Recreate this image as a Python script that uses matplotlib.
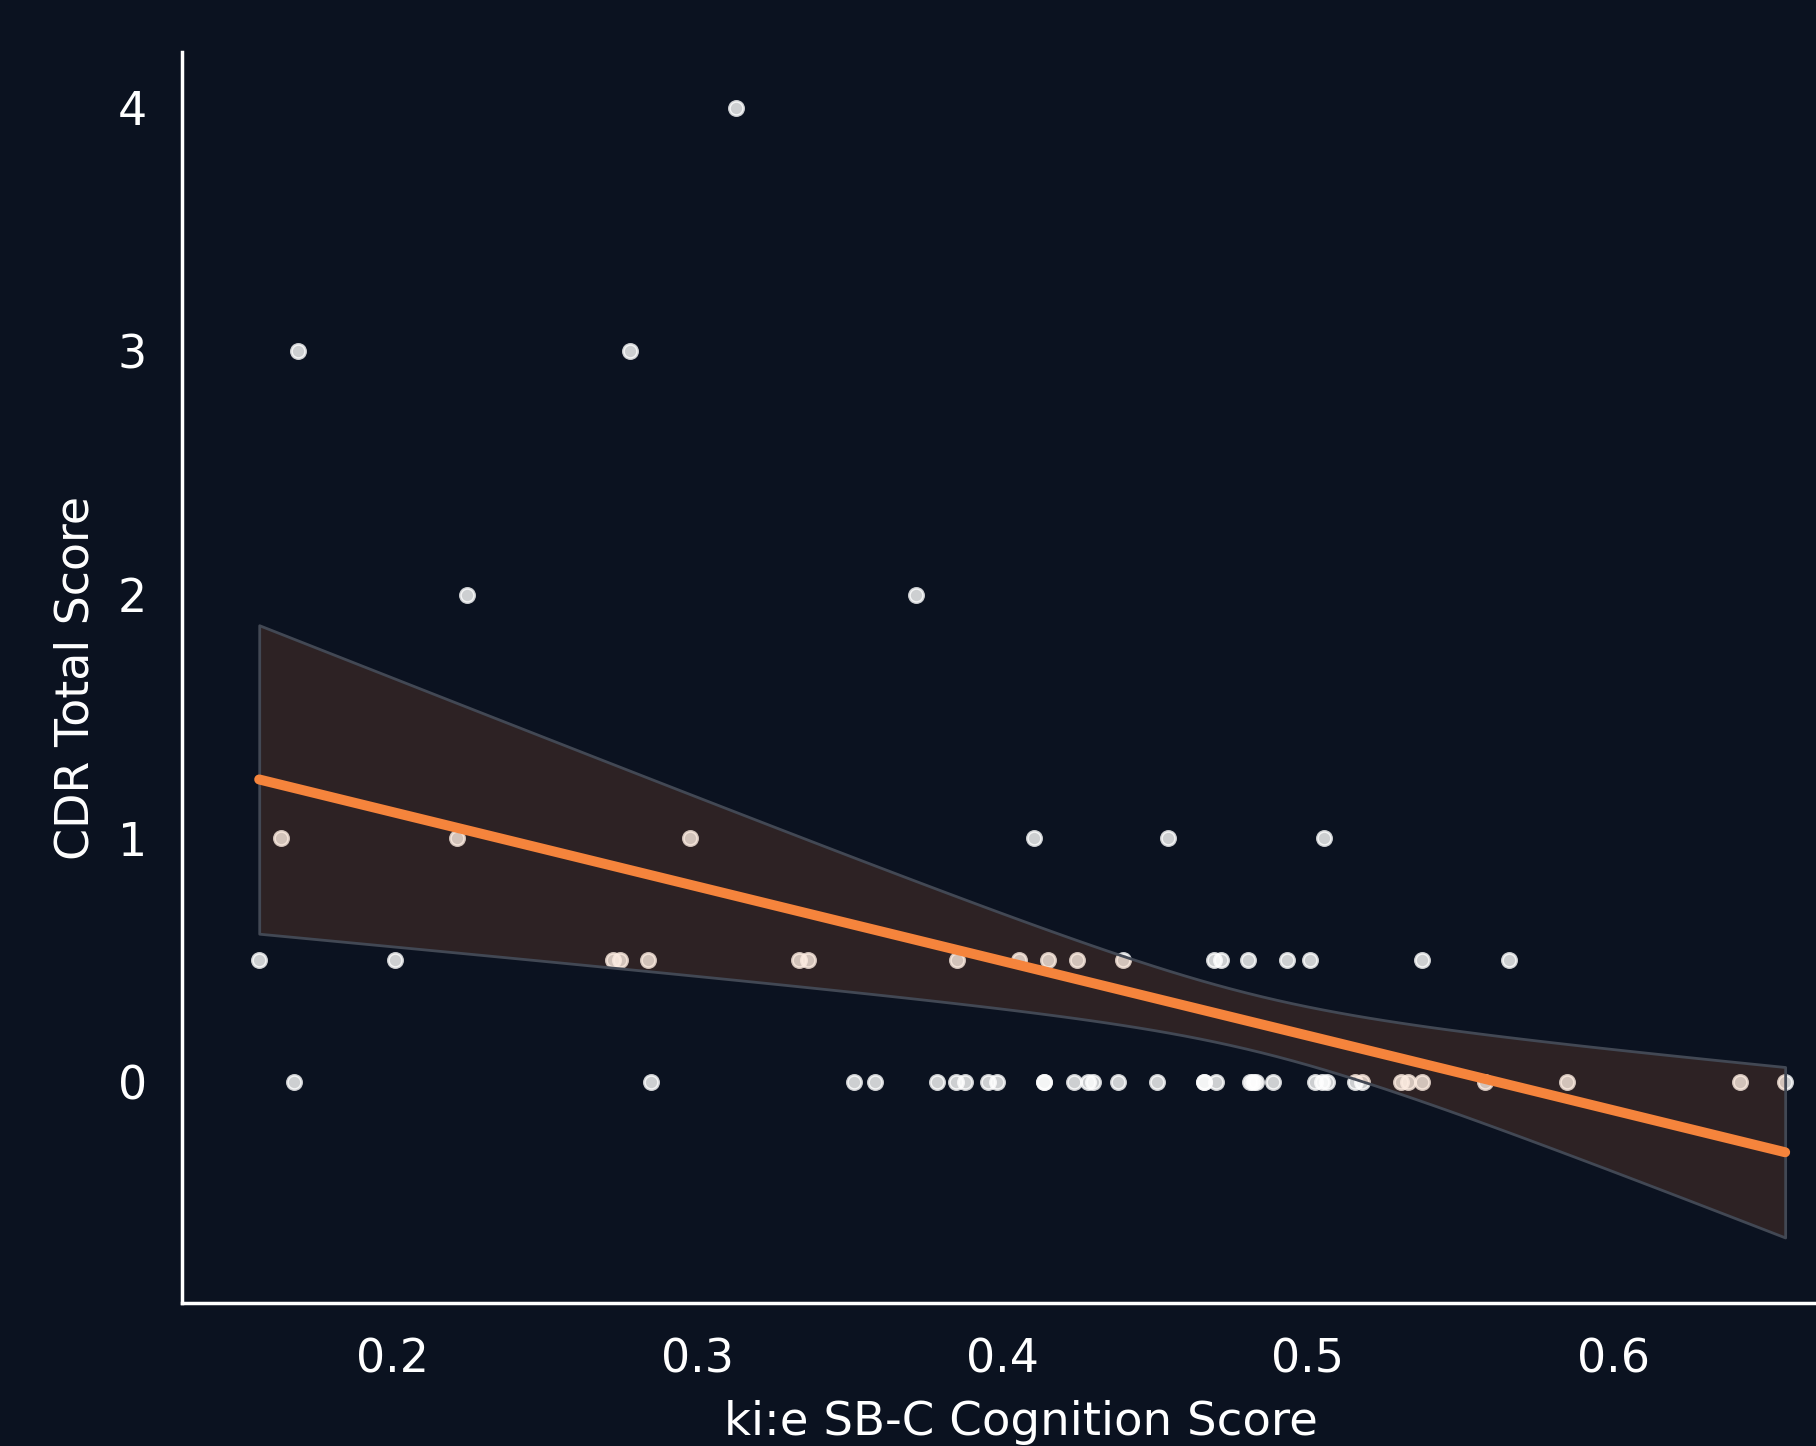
import numpy as np
import matplotlib
matplotlib.use("Agg")
import matplotlib.pyplot as plt

# ---- data ----
cdr0_x = [0.1679, 0.2847, 0.3513, 0.3582, 0.3786, 0.3846, 0.3877, 0.3953, 0.3981,
          0.4136, 0.4136, 0.4233, 0.4281, 0.4297, 0.4379, 0.4505, 0.4659, 0.4659,
          0.4698, 0.4810, 0.4820, 0.4829, 0.4885, 0.5024, 0.5046, 0.5064, 0.5153,
          0.5178, 0.5304, 0.5329, 0.5375, 0.5580, 0.5847, 0.6415, 0.6563]
cdr05_x = [0.1565, 0.2009, 0.2725, 0.2747, 0.2840, 0.3332, 0.3364, 0.3849, 0.4053,
           0.4147, 0.4245, 0.4395, 0.4692, 0.4715, 0.4804, 0.4933, 0.5007, 0.5372,
           0.5657]
cdr1_x = [0.1635, 0.2212, 0.2977, 0.4103, 0.4543, 0.5051]
cdr2_x = [0.2245, 0.3716]
cdr3_x = [0.1691, 0.2780]
cdr4_x = [0.3128]
cdr_levels = [0, 0.5, 1, 2, 3, 4]

x_ticks = [0.2, 0.3, 0.4, 0.5, 0.6]
x_tick_labels = ["0.2", "0.3", "0.4", "0.5", "0.6"]
y_ticks = [0, 1, 2, 3, 4]
y_tick_labels = ["0", "1", "2", "3", "4"]
x_label = "ki:e SB-C Cognition Score"
y_label = "CDR Total Score"

groups = [cdr0_x, cdr05_x, cdr1_x, cdr2_x, cdr3_x, cdr4_x]
x = np.concatenate([np.asarray(g, float) for g in groups])
y = np.concatenate([np.full(len(g), lvl, float) for g, lvl in zip(groups, cdr_levels)])

# ---- OLS fit with a heteroscedasticity-robust (HC3) 95% confidence band ----
n = len(x)
X = np.column_stack([np.ones(n), x])
XtX_inv = np.linalg.inv(X.T @ X)
beta = XtX_inv @ X.T @ y
resid = y - X @ beta
h = np.einsum("ij,jk,ik->i", X, XtX_inv, X)
meat = X.T @ (X * (resid ** 2 / (1 - h) ** 2)[:, None])
cov = XtX_inv @ meat @ XtX_inv

grid = np.linspace(x.min(), x.max(), 100)
G = np.column_stack([np.ones_like(grid), grid])
fit = G @ beta
se = np.sqrt(np.einsum("ij,jk,ik->i", G, cov, G))
lower = fit - 1.96 * se
upper = fit + 1.96 * se

# ---- styling ----
BG = "#0b1220"
FG = "white"
ORANGE = "#f5843c"
plt.rcParams["font.family"] = ["DejaVu Sans"]

fig = plt.figure(figsize=(9.08, 7.23), dpi=200, facecolor=BG)
ax = fig.add_axes([0.1002, 0.0989, 0.924, 0.8651])
ax.set_facecolor(BG)

ax.scatter(x, y, s=26, color="white", alpha=0.8, edgecolors="white",
           linewidths=1.0, zorder=2)
ax.fill_between(grid, lower, upper, facecolor=(0.961, 0.518, 0.235, 0.15),
                edgecolor="#424854", linewidth=1.0, zorder=3)
ax.plot(grid, fit, color=ORANGE, linewidth=3.6, solid_capstyle="round", zorder=4)

ax.set_xlim(0.1312, 0.6808)
ax.set_ylim(-0.909, 4.229)
ax.set_xticks(x_ticks)
ax.set_xticklabels(x_tick_labels)
ax.set_yticks(y_ticks)
ax.set_yticklabels(y_tick_labels)
ax.tick_params(axis="both", length=0, pad=12.6, labelsize=16.5, colors=FG)

for side in ["top", "right"]:
    ax.spines[side].set_visible(False)
for side in ["left", "bottom"]:
    ax.spines[side].set_color(FG)
    ax.spines[side].set_linewidth(1.25)

ax.set_xlabel(x_label, fontsize=16.8, color=FG, labelpad=6)
ax.set_ylabel(y_label, fontsize=16.5, color=FG, labelpad=7)

fig.savefig("out.png", dpi=200, facecolor=BG)
